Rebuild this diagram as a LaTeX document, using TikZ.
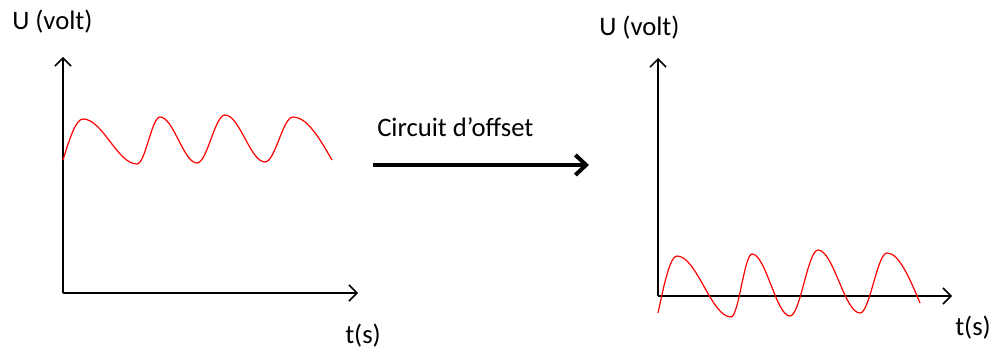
\documentclass[tikz,border=0pt]{standalone}
\usepackage{fontspec}
\setmainfont{Carlito}
\usetikzlibrary{arrows.meta}
\begin{document}
\begin{tikzpicture}[x=0.75pt,y=-0.75pt,
  axis/.style={line width=1.1pt,-{Straight Barb[length=6pt,width=12pt,line width=1.1pt]}},
  wave/.style={red,line width=0.9pt},
  lbl/.style={font=\fontsize{20}{24}\selectfont,inner sep=0pt,anchor=west},
  bigarrow/.style={line width=3pt,-{Straight Barb[length=8pt,width=15pt,line width=3pt]}}]
\useasboundingbox (0,0) rectangle (992,349);
% left chart
\coordinate (o1) at (63,293);
\coordinate (y1) at (63,57);
\coordinate (x1) at (358,293);
\draw[axis] (o1) -- (y1);
\draw[axis] (o1) -- (x1);
\node[lbl] (u1) at (12,22) {U (volt)};
\node[lbl] (t1) at (345,336) {t(s)};
\draw[wave] (63,160) sin (83,119) cos (110,141.5) sin (137,164) cos (148.5,140.5) sin (160,117)
  cos (178.5,140) sin (197,163) cos (211,139) sin (225,115) cos (245,138.5) sin (265,162)
  cos (279,139.5) sin (293,117) cos (332,160);
% arrow
\coordinate (a1) at (373,165);
\coordinate (a2) at (589,165);
\draw[bigarrow] (a1) -- (a2);
\node[lbl] (c) at (377,127) {Circuit d’offset};
% right chart
\coordinate (o2) at (658,296);
\coordinate (y2) at (658,58);
\coordinate (x2) at (952,296);
\draw[axis] (o2) -- (y2);
\draw[axis] (o2) -- (x2);
\node[lbl] (u2) at (599,28) {U (volt)};
\node[lbl] (t2) at (955,328) {t(s)};
\draw[wave] (658,313) sin (677,256) cos (704,286.5) sin (731,317) cos (741.5,285.5) sin (752,254)
  cos (771,285) sin (790,316) cos (804,283) sin (818,250) cos (839,281.5) sin (860,313)
  cos (873.5,283) sin (887,253) cos (920,303);
\end{tikzpicture}
\end{document}
